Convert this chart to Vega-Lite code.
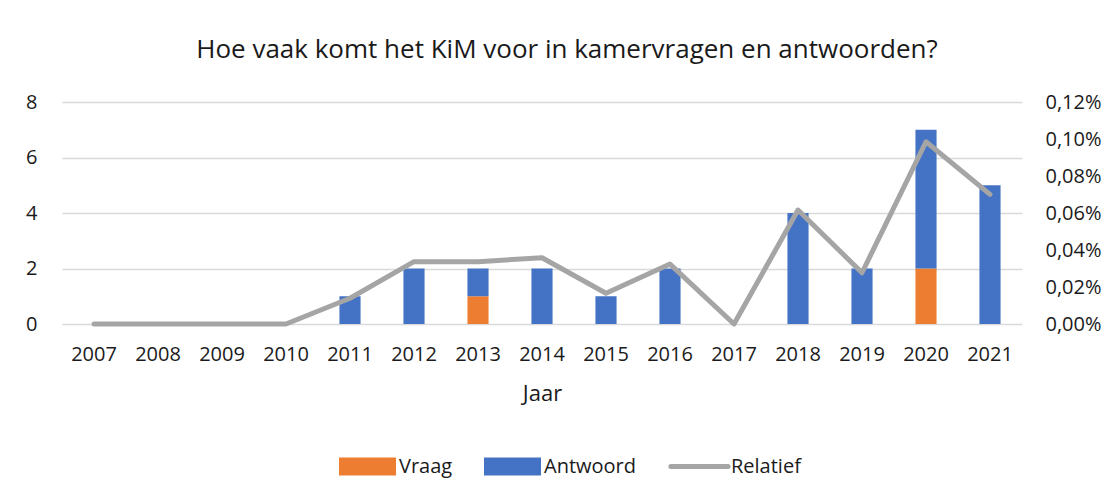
{
  "$schema": "https://vega.github.io/schema/vega-lite/v6.json",
  "width": 960,
  "height": 222,
  "autosize": {"type": "none"},
  "padding": {"left": 62, "top": 102, "right": 90, "bottom": 173},
  "background": "white",
  "config": {
    "font": "Open Sans",
    "view": {"stroke": null},
    "axis": {
      "labelFontSize": 20,
      "labelColor": "#1a1a1a",
      "domain": false,
      "ticks": false,
      "gridColor": "#d9d9d9",
      "gridWidth": 1.3,
      "titleFontWeight": "normal",
      "titleColor": "#1a1a1a"
    }
  },
  "title": {
    "text": "Hoe vaak komt het KiM voor in kamervragen en antwoorden?",
    "fontSize": 26,
    "fontWeight": "normal",
    "color": "#1a1a1a",
    "anchor": "middle",
    "offset": 29,
    "dx": 25
  },
  "data": {
    "values": [
      {"Jaar": "2007", "Vraag": 0, "Antwoord": 0, "Relatief": 0},
      {"Jaar": "2008", "Vraag": 0, "Antwoord": 0, "Relatief": 0},
      {"Jaar": "2009", "Vraag": 0, "Antwoord": 0, "Relatief": 0},
      {"Jaar": "2010", "Vraag": 0, "Antwoord": 0, "Relatief": 0},
      {"Jaar": "2011", "Vraag": 0, "Antwoord": 1, "Relatief": 0.000139},
      {"Jaar": "2012", "Vraag": 0, "Antwoord": 2, "Relatief": 0.000337},
      {"Jaar": "2013", "Vraag": 1, "Antwoord": 1, "Relatief": 0.000337},
      {"Jaar": "2014", "Vraag": 0, "Antwoord": 2, "Relatief": 0.000358},
      {"Jaar": "2015", "Vraag": 0, "Antwoord": 1, "Relatief": 0.000166},
      {"Jaar": "2016", "Vraag": 0, "Antwoord": 2, "Relatief": 0.000324},
      {"Jaar": "2017", "Vraag": 0, "Antwoord": 0, "Relatief": 0},
      {"Jaar": "2018", "Vraag": 0, "Antwoord": 4, "Relatief": 0.000616},
      {"Jaar": "2019", "Vraag": 0, "Antwoord": 2, "Relatief": 0.000277},
      {"Jaar": "2020", "Vraag": 2, "Antwoord": 5, "Relatief": 0.000985},
      {"Jaar": "2021", "Vraag": 0, "Antwoord": 5, "Relatief": 0.000701}
    ]
  },
  "layer": [
    {
      "transform": [{"fold": ["Vraag", "Antwoord"], "as": ["Type", "Aantal"]}],
      "mark": {"type": "bar", "width": {"band": 0.33}},
      "encoding": {
        "x": {
          "field": "Jaar",
          "type": "ordinal",
          "scale": {"paddingInner": 0, "paddingOuter": 0},
          "axis": {"title": "Jaar", "labelAngle": 0, "labelPadding": 20, "titleFontSize": 22, "titlePadding": 19, "grid": false}
        },
        "y": {
          "field": "Aantal",
          "type": "quantitative",
          "stack": "zero",
          "scale": {"domain": [0, 8]},
          "axis": {"values": [0, 2, 4, 6, 8], "title": null, "grid": true, "labelPadding": 25}
        },
        "color": {
          "field": "Type",
          "type": "nominal",
          "scale": {"domain": ["Vraag", "Antwoord", "Relatief"], "range": ["#ED7D31", "#4472C4", "#A5A5A5"]},
          "legend": {
            "orient": "none",
            "legendX": 290,
            "legendY": 349,
            "direction": "horizontal",
            "title": null,
            "labelFontSize": 20,
            "labelColor": "#1a1a1a",
            "symbolSize": 676,
            "labelOffset": 16,
            "columnPadding": 23,
            "encode": {
              "symbols": {
                "update": {
                  "shape": {"signal": "datum.value === 'Relatief' ? 'M-2.2,0H2.2M-2,-0.5M-2,0.5' : 'M-2,-0.5H2V0.5H-2Z'"},
                  "fill": {"signal": "datum.value === 'Relatief' ? 'transparent' : (datum.value === 'Vraag' ? '#ED7D31' : '#4472C4')"},
                  "stroke": {"signal": "datum.value === 'Relatief' ? '#A5A5A5' : 'transparent'"},
                  "strokeWidth": {"value": 5},
                  "strokeCap": {"value": "round"},
                  "opacity": {"value": 1}
                }
              }
            }
          }
        },
        "order": {"field": "Type", "sort": "descending"}
      }
    },
    {
      "mark": {"type": "line", "strokeWidth": 5, "strokeCap": "round", "strokeJoin": "round"},
      "encoding": {
        "x": {"field": "Jaar", "type": "ordinal"},
        "y": {
          "field": "Relatief",
          "type": "quantitative",
          "scale": {"domain": [0, 0.0012]},
          "axis": {
            "orient": "right",
            "values": [0, 0.0002, 0.0004, 0.0006, 0.0008, 0.001, 0.0012],
            "labelExpr": "replace(format(datum.value, '.2%'), '.', ',')",
            "grid": false,
            "title": null,
            "labelPadding": 23
          }
        },
        "color": {"datum": "Relatief", "type": "nominal"}
      }
    }
  ],
  "resolve": {"scale": {"y": "independent"}}
}
